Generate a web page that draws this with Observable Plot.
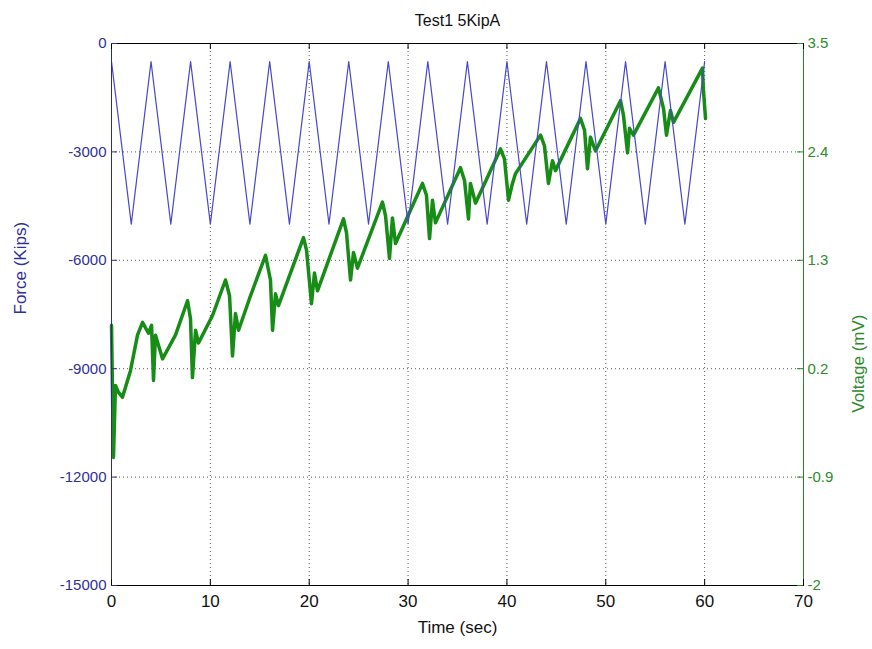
<!DOCTYPE html>
<html>
<head>
<meta charset="utf-8">
<script src="https://cdn.jsdelivr.net/npm/d3@7"></script>
<script src="https://cdn.jsdelivr.net/npm/@observablehq/plot@0.6"></script>
<style>
  body { margin: 0; background: #fff; }
</style>
</head>
<body>
<div id="chart"></div>
<script>
// Actuator force: turning points of the loading triangle (time in s, force in kips)
const forceTime = [0, 2, 4, 6, 8, 10, 12, 14, 16, 18, 20, 22, 24, 26, 28, 30,
                   32, 34, 36, 38, 40, 42, 44, 46, 48, 50, 52, 54, 56, 58, 60];
const forceKips = [-500, -5000, -500, -5000, -500, -5000, -500, -5000, -500, -5000,
                   -500, -5000, -500, -5000, -500, -5000, -500, -5000, -500, -5000,
                   -500, -5000, -500, -5000, -500, -5000, -500, -5000, -500, -5000, -500];

// Sensor voltage trace (time in s, voltage in mV)
const voltTime = [0, 0.2, 0.4, 0.71, 1.11, 1.92, 2.63, 3.14, 3.74, 4.05, 4.25, 4.45, 5.16, 6.47,
  7.69, 7.99, 8.19, 8.5, 8.8, 10.22, 11.53, 11.94, 12.24, 12.54, 12.85, 14.06, 15.58,
  16.08, 16.29, 16.59, 16.89, 19.42, 19.73, 20.23, 20.53, 20.84, 23.47, 23.77, 24.18,
  24.48, 24.88, 27.41, 27.72, 28.12, 28.42, 28.73, 31.46, 31.86, 32.17, 32.47, 32.77,
  35.3, 35.71, 36.11, 36.31, 36.82, 39.35, 39.75, 40.16, 40.56, 40.87, 43.4, 43.8,
  44.2, 44.61, 44.91, 47.44, 47.85, 48.15, 48.45, 48.96, 51.49, 51.79, 52.2, 52.4,
  52.8, 55.33, 55.84, 56.14, 56.54, 56.85, 59.78, 59.88, 60.09];
const voltMv = [0.64, -0.7, 0.03, -0.04, -0.09, 0.18, 0.54, 0.67, 0.56, 0.64, 0.08, 0.54, 0.3, 0.54,
  0.89, 0.71, 0.11, 0.59, 0.46, 0.74, 1.1, 0.94, 0.33, 0.76, 0.59, 0.94, 1.35,
  1.1, 0.59, 0.96, 0.84, 1.53, 1.4, 0.86, 1.17, 0.99, 1.72, 1.58, 1.1,
  1.38, 1.22, 1.89, 1.75, 1.32, 1.73, 1.47, 2.08, 1.96, 1.52, 1.91, 1.68,
  2.24, 2.11, 1.72, 2.08, 1.88, 2.43, 2.33, 1.91, 2.08, 2.18, 2.57, 2.46,
  2.08, 2.31, 2.21, 2.74, 2.62, 2.23, 2.55, 2.41, 2.92, 2.77, 2.39, 2.64,
  2.57, 3.05, 2.84, 2.57, 2.82, 2.7, 3.25, 3.02, 2.74];

// Axis ticks
const timeTicks = [0, 10, 20, 30, 40, 50, 60, 70];
const forceTicks = [-15000, -12000, -9000, -6000, -3000, 0];
const voltTicks = [-2, -0.9, 0.2, 1.3, 2.4, 3.5];

// Both y axes share one scale: map the voltage range [-2, 3.5] onto the force range [-15000, 0]
const fMin = -15000, fMax = 0, vMin = -2, vMax = 3.5;
const toF = v => fMin + (v - vMin) * (fMax - fMin) / (vMax - vMin);
const toV = f => vMin + (f - fMin) * (vMax - vMin) / (fMax - fMin);

const forceRows = forceTime.map((t, i) => ({t, f: forceKips[i]}));
const voltRows = voltTime.map((t, i) => ({t, v: voltMv[i]}));

const blue = "#4848cc";
const blueText = "#30309a";
const green = "#178c17";
const greenText = "#2e8b2e";

const W = 872, H = 649, mL = 111, mR = 69, mT = 43, mB = 64;
const innerW = W - mL - mR, innerH = H - mT - mB;
const tick = 6;

const chart = Plot.plot({
  width: W, height: H,
  marginLeft: mL, marginRight: mR, marginTop: mT, marginBottom: mB,
  style: {fontFamily: "'Liberation Sans', Arial, sans-serif", fontSize: "15px", background: "#fff", overflow: "visible"},
  x: {domain: [0, 70]},
  y: {domain: [fMin, fMax]},
  marks: [
    // dotted grid
    Plot.gridX(timeTicks.slice(1, -1), {stroke: "#000", strokeOpacity: 0.65, strokeDasharray: "1,3"}),
    Plot.gridY(forceTicks.slice(1, -1), {stroke: "#000", strokeOpacity: 0.65, strokeDasharray: "1,3"}),

    // voltage trace
    Plot.line(voltRows, {x: "t", y: d => toF(d.v), stroke: green, strokeWidth: 3.5, strokeLinejoin: "round"}),
    // force trace
    Plot.line(forceRows, {x: "t", y: "f", stroke: blue, strokeWidth: 1.2}),

    // box
    Plot.frame({stroke: "#000"}),
    Plot.ruleX([0], {stroke: "#2c2c80"}),
    Plot.ruleX([70], {stroke: "#2d7f2d"}),

    // inward ticks
    Plot.ruleX(timeTicks, {insetTop: innerH - tick, stroke: "#000"}),
    Plot.ruleX(timeTicks, {insetBottom: innerH - tick, stroke: "#000"}),
    Plot.ruleY(forceTicks, {insetRight: innerW - tick, stroke: "#2c2c80"}),
    Plot.ruleY(voltTicks.map(toF), {insetLeft: innerW - tick, stroke: "#2d7f2d"}),

    // tick labels
    Plot.axisX(timeTicks, {tickSize: 0, tickPadding: 9, fontSize: 17, label: null, fill: "#111"}),
    Plot.axisY(forceTicks, {anchor: "left", tickSize: 0, tickPadding: 5, fontSize: 15, label: null,
      tickFormat: d => String(d), fill: blueText}),
    Plot.axisY(voltTicks.map(toF), {anchor: "right", tickSize: 0, tickPadding: 4, fontSize: 15, label: null,
      tickFormat: f => String(Math.round(toV(f) * 10) / 10), fill: greenText}),

    // titles
    Plot.text(["Test1 5KipA"], {text: d => d, frameAnchor: "top", dy: -29, fontSize: 16, fill: "#111"}),
    Plot.text(["Time (sec)"], {text: d => d, frameAnchor: "bottom", dy: 47, fontSize: 17, fill: "#111"}),
    Plot.text(["Force (Kips)"], {text: d => d, frameAnchor: "left", dx: -91, rotate: -90, fontSize: 17, fill: blueText}),
    Plot.text(["Voltage (mV)"], {text: d => d, frameAnchor: "right", dx: 55, rotate: -90, fontSize: 17, fill: greenText})
  ]
});

document.getElementById("chart").append(chart);
</script>
</body>
</html>
